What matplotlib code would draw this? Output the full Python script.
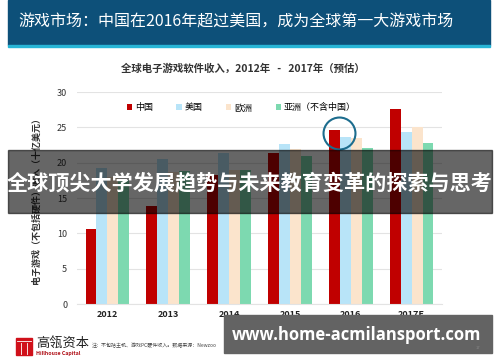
import matplotlib.pyplot as plt
import matplotlib.patches as mpatches
import numpy as np

plt.rcParams['font.family'] = ['Noto Sans CJK SC', 'DejaVu Sans']

# data (billion USD)
years = ['2012', '2013', '2014', '2015', '2016', '2017E']
china = [10.6, 13.9, 18.3, 21.3, 24.6, 27.6]
usa = [19.3, 20.5, 21.4, 22.7, 23.7, 24.4]
europe = [18.0, 18.7, 19.0, 22.0, 23.5, 25.1]
asia = [17.6, 18.8, 18.9, 20.9, 22.1, 22.8]
series_names = ['中国', '美国', '欧洲', '亚洲（不含中国）']
series_colors = ['#c00000', '#b8e4f8', '#fbe4cc', '#7dd9b0']

W, H = 500, 362
fig = plt.figure(figsize=(W / 100, H / 100), dpi=100)
fig.patch.set_facecolor('white')


def fx(px):
    return px / W


def fy(py):
    return 1 - py / H


# header band
fig.patches.append(mpatches.Rectangle((fx(8), fy(45)), fx(482), 45 / H,
                                      transform=fig.transFigure, color='#0d5079', zorder=0))
fig.patches.append(mpatches.Rectangle((fx(8), fy(47)), fx(482), 2 / H,
                                      transform=fig.transFigure, color='#27b5d6', zorder=0))
fig.text(fx(18), fy(22), '游戏市场：中国在2016年超过美国，成为全球第一大游戏市场',
         color='white', fontsize=11.5, va='center', ha='left')

# chart title
fig.text(fx(243), fy(69), '全球电子游戏软件收入，2012年   -   2017年（预估）',
         color='#333333', fontsize=7.5, fontweight='bold', va='center', ha='center')

ax = fig.add_axes([fx(77), fy(304), fx(365), (304 - 92) / H])
x = np.arange(len(years))
bw = 0.18
all_series = [china, usa, europe, asia]
for i, (vals, name, col) in enumerate(zip(all_series, series_names, series_colors)):
    ax.bar(x + (i - 1.5) * bw, vals, width=bw, color=col, label=name, zorder=2)

ax.set_xlim(-0.5, len(years) - 0.5)
ax.set_ylim(0, 30)
ax.set_yticks([0, 5, 10, 15, 20, 25, 30])
ax.set_xticks(x)
ax.set_xticklabels(years, fontsize=6.5, fontweight='bold', color='#222222')
ax.tick_params(axis='y', labelsize=6.5, colors='#333333', length=0, pad=7)
ax.tick_params(axis='x', length=0, pad=4)
ax.grid(axis='y', color='#e3e3e3', linewidth=0.8, zorder=0)
for s in ['top', 'right', 'left']:
    ax.spines[s].set_visible(False)
ax.spines['bottom'].set_color('#e3e3e3')
ax.set_ylabel('电子游戏（不包括硬件）收入（十亿美元）', fontsize=6.5,
              fontweight='bold', color='#333333', labelpad=12)

ax.legend(loc='center', bbox_to_anchor=(0.45, 0.925), ncol=4, frameon=False,
          fontsize=6.5, handlelength=0.6, handleheight=0.6, handletextpad=0.3,
          columnspacing=2.6)

# highlight circle around 2016 China / US
ax.plot([4 - 0.2], [24.2], marker='o', markersize=23, fillstyle='none',
        markeredgecolor='#1d6d8e', markeredgewidth=1.5, zorder=5)

# overlay banner
fig.patches.append(mpatches.Rectangle((fx(8), fy(213)), fx(484), 63 / H,
                                      transform=fig.transFigure, color='black',
                                      alpha=0.6, zorder=10))
fig.text(fx(250), fy(183), '全球顶尖大学发展趋势与未来教育变革的探索与思考',
         color='white', fontsize=15.2, fontweight='bold', va='center', ha='center', zorder=11)

# footer logo and note
fig.patches.append(mpatches.Rectangle((fx(16), fy(355)), fx(16), 17 / H,
                                      transform=fig.transFigure, color='#d0101a', zorder=3))
for lx in [21, 27]:
    fig.lines.append(plt.Line2D([fx(lx), fx(lx)], [fy(354), fy(343)],
                                transform=fig.transFigure, color='white', linewidth=0.6, zorder=4))
fig.lines.append(plt.Line2D([fx(17), fx(31)], [fy(341), fy(341)],
                            transform=fig.transFigure, color='white', linewidth=0.6, zorder=4))
fig.text(fx(36), fy(343), '高瓴资本', color='#222222', fontsize=9.5, va='center', ha='left')
fig.text(fx(36), fy(354), 'Hillhouse Capital', color='#b01018', fontsize=3.8,
         fontweight='bold', va='center', ha='left')
fig.text(fx(92), fy(345), '注：不包括主机、游戏PC硬件收入。数据来源：Newzoo',
         color='#444444', fontsize=3.6, va='center', ha='left')

# bottom watermark box
fig.patches.append(mpatches.Rectangle((fx(224), fy(353)), fx(268), 38 / H,
                                      transform=fig.transFigure, color='#636363', zorder=10))
fig.text(fx(357), fy(335), 'www.home-acmilansport.com', color='white', fontsize=12,
         fontweight='bold', family=['Open Sans', 'DejaVu Sans'],
         va='center', ha='center', zorder=11)
fig.text(fx(478), fy(348), '17', color='#888888', fontsize=3, va='center', ha='center', zorder=11)

fig.savefig('out.png', dpi=100)
